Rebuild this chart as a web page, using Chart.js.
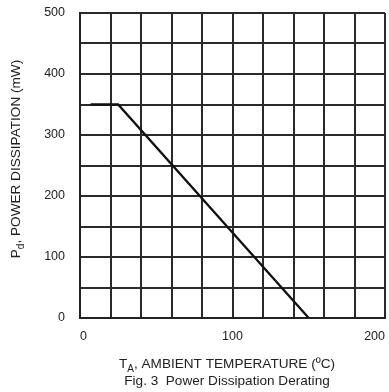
<!DOCTYPE html>
<html>
<head>
<meta charset="utf-8">
<script src="https://cdn.jsdelivr.net/npm/chart.js@4.4.1/dist/chart.umd.min.js"></script>
<style>
    html, body { margin: 0; padding: 0; background: #fff; overflow: hidden; }
    #wrap { width: 389px; height: 392px; position: relative; }
    #wrap canvas { display: block; }
</style>
</head>
<body>
<div id="wrap"><canvas id="deratingChart"></canvas></div>
<script>
// Dữ liệu
const tempC = [7, 25, 150];
const powerMW = [350, 350, 0];
const xTicks = [0, 100, 200];
const yTicks = [0, 100, 200, 300, 400, 500];

const FONT = '"Liberation Sans", Arial, sans-serif';

// vẽ chữ có chỉ số dưới (P_d, T_A)
function drawSubText(ctx, parts, cx, cy, size) {
    const big = size + 'px ' + FONT;
    const small = Math.round(size * 0.7) + 'px ' + FONT;
    let total = 0;
    parts.forEach(p => {
        ctx.font = p.sub ? small : big;
        total += ctx.measureText(p.t).width;
    });
    let x = cx - total / 2;
    ctx.textBaseline = 'middle';
    ctx.textAlign = 'left';
    parts.forEach(p => {
        ctx.font = p.sub ? small : big;
        ctx.fillText(p.t, x, p.sub ? cy + size * 0.35 : cy);
        x += ctx.measureText(p.t).width;
    });
}

const titlesPlugin = {
    id: 'titles',
    afterDraw(chart) {
        const ctx = chart.ctx;
        ctx.save();
        ctx.fillStyle = '#222';
        drawSubText(ctx, [{ t: 'T' }, { t: 'A', sub: true }, { t: ', AMBIENT TEMPERATURE (ºC)' }], 227, 364, 13.6);
        drawSubText(ctx, [{ t: 'Fig. 3  Power Dissipation Derating' }], 227, 381, 13.6);
        ctx.translate(16, 159);
        ctx.rotate(-Math.PI / 2);
        drawSubText(ctx, [{ t: 'P' }, { t: 'd', sub: true }, { t: ', POWER DISSIPATION (mW)' }], 0, 0, 13.6);
        ctx.restore();
    }
};

document.addEventListener("DOMContentLoaded", () => {
    const ctx = document.getElementById('deratingChart');
    new Chart(ctx.getContext('2d'), {
        type: 'line',
        data: {
            datasets: [{
                data: tempC.map((t, i) => ({ x: t, y: powerMW[i] })),
                borderColor: '#111',
                borderWidth: 2.3,
                pointRadius: 0,
                tension: 0,
                fill: false
            }]
        },
        options: {
            responsive: true,
            maintainAspectRatio: false,
            animation: false,
            layout: { padding: { left: 0, top: 13, right: 4, bottom: 0 } },
            scales: {
                x: {
                    type: 'linear',
                    min: 0,
                    max: 200,
                    afterFit: s => { s.height = 74; s.paddingLeft = 0; s.paddingRight = 0; },
                    grid: { color: '#2a2a2a', lineWidth: 2, drawTicks: false },
                    border: { color: '#222', width: 2 },
                    ticks: {
                        stepSize: 20,
                        autoSkip: false,
                        maxRotation: 0,
                        align: 'inner',
                        padding: 11,
                        color: '#222',
                        font: { family: FONT, size: 12.5 },
                        callback: v => xTicks.includes(v) ? String(v) : ''
                    }
                },
                y: {
                    min: 0,
                    max: 500,
                    afterFit: s => { s.width = 80; s.paddingTop = 0; s.paddingBottom = 0; },
                    grid: { color: '#2a2a2a', lineWidth: 2, drawTicks: false },
                    border: { color: '#222', width: 2 },
                    ticks: {
                        stepSize: 50,
                        autoSkip: false,
                        padding: 15,
                        color: '#222',
                        font: { family: FONT, size: 12.5 },
                        callback: v => yTicks.includes(v) ? String(v) : ''
                    }
                }
            },
            plugins: {
                legend: { display: false },
                tooltip: { enabled: false }
            }
        },
        plugins: [titlesPlugin]
    });
});
</script>
</body>
</html>
